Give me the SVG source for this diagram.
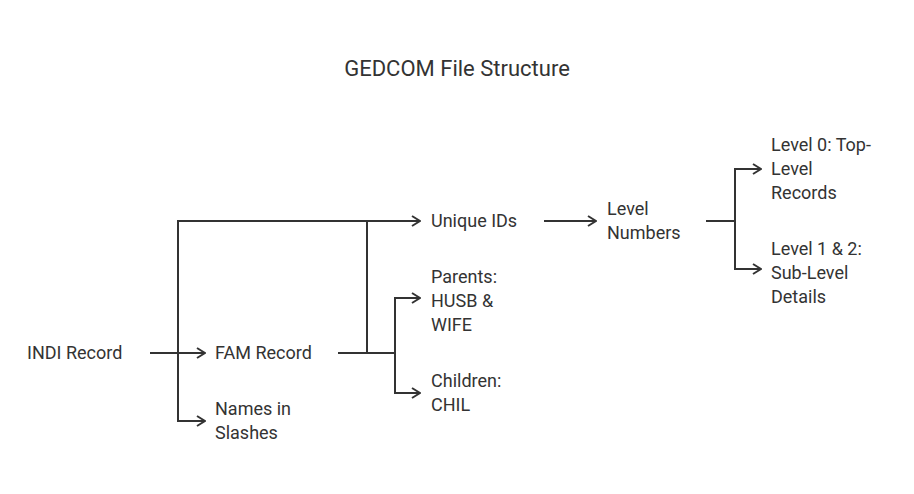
<svg xmlns="http://www.w3.org/2000/svg" width="914" height="494" viewBox="0 0 914 494">
<style>
text{font-family:Roboto,"Liberation Sans",sans-serif;fill:#333;font-size:18px}
.t{font-size:22px}
.c{fill:none;stroke:#333;stroke-width:2}
</style>
<defs><marker id="a" viewBox="0 0 10 12" refX="9" refY="6" markerWidth="10" markerHeight="12" markerUnits="userSpaceOnUse" orient="auto"><path d="M1 1L9 6L1 11" fill="none" stroke="#333" stroke-width="2"/></marker></defs>
<rect width="914" height="494" fill="#fff"/>
<text class="t" x="457" y="76" text-anchor="middle">GEDCOM File Structure</text>
<g id="connectors">
<path class="c" d="M150 353H205" marker-end="url(#a)"/>
<path class="c" d="M178 353V221H420" marker-end="url(#a)"/>
<path class="c" d="M178 353V421H205" marker-end="url(#a)"/>
<path class="c" d="M338 353H395M367 353V221"/>
<path class="c" d="M395 353V298H420" marker-end="url(#a)"/>
<path class="c" d="M395 353V393H420" marker-end="url(#a)"/>
<path class="c" d="M544 221H596" marker-end="url(#a)"/>
<path class="c" d="M706 221H735"/>
<path class="c" d="M735 221V169H761" marker-end="url(#a)"/>
<path class="c" d="M735 221V269H761" marker-end="url(#a)"/>
</g>
<g id="indi"><text x="27" y="359">INDI Record</text></g>
<g id="fam"><text x="215" y="359">FAM Record</text></g>
<g id="names"><text x="215" y="415">Names in</text><text x="215" y="439">Slashes</text></g>
<g id="uids"><text x="431" y="227">Unique IDs</text></g>
<g id="parents"><text x="431" y="283">Parents:</text><text x="431" y="307">HUSB &amp;</text><text x="431" y="331">WIFE</text></g>
<g id="children"><text x="431" y="387">Children:</text><text x="431" y="411">CHIL</text></g>
<g id="level"><text x="607" y="215">Level</text><text x="607" y="239">Numbers</text></g>
<g id="l0"><text x="771" y="151">Level 0: Top-</text><text x="771" y="175">Level</text><text x="771" y="199">Records</text></g>
<g id="l12"><text x="771" y="255">Level 1 &amp; 2:</text><text x="771" y="279">Sub-Level</text><text x="771" y="303">Details</text></g>
</svg>
